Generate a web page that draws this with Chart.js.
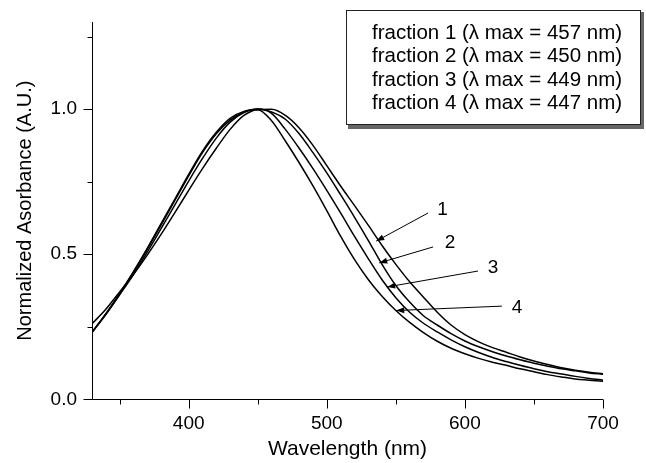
<!DOCTYPE html>
<html>
<head>
<meta charset="utf-8">
<script src="https://cdn.jsdelivr.net/npm/chart.js@4.4.0/dist/chart.umd.min.js"></script>
<style>
    html, body { margin: 0; padding: 0; background: #fff; }
</style>
</head>
<body>
<canvas id="myChart" width="646" height="463"></canvas>
<script>
// wavelength (nm)
const wavelength = [330, 340, 350, 360, 370, 380, 390, 400, 410, 420, 430, 440, 450, 460, 470, 480, 490, 500, 510,
    520, 530, 540, 550, 560, 570, 580, 590, 600, 610, 620, 630, 640, 650, 660, 670, 680, 690, 700];

// normalized absorbance for each fraction
const fraction1 = [0.23, 0.295, 0.365, 0.44, 0.52, 0.605, 0.69, 0.775, 0.855, 0.92, 0.968, 0.992, 0.998, 0.999, 0.978,
    0.935, 0.875, 0.805, 0.735, 0.668, 0.60, 0.53, 0.465, 0.405, 0.352, 0.30, 0.256, 0.223, 0.198, 0.178, 0.162, 0.146,
    0.132, 0.12, 0.109, 0.10, 0.093, 0.088];
const fraction2 = [0.23, 0.292, 0.362, 0.437, 0.517, 0.60, 0.685, 0.77, 0.85, 0.915, 0.962, 0.99, 1.0, 0.99, 0.965,
    0.915, 0.85, 0.78, 0.705, 0.628, 0.548, 0.465, 0.392, 0.335, 0.288, 0.256, 0.226, 0.201, 0.181, 0.164, 0.149, 0.136,
    0.124, 0.114, 0.105, 0.098, 0.091, 0.086];
const fraction3 = [0.232, 0.293, 0.36, 0.43, 0.507, 0.588, 0.67, 0.752, 0.83, 0.90, 0.955, 0.988, 1.0, 0.985, 0.93,
    0.865, 0.795, 0.72, 0.642, 0.562, 0.485, 0.412, 0.35, 0.30, 0.262, 0.232, 0.205, 0.181, 0.161, 0.144, 0.13, 0.117,
    0.105, 0.095, 0.087, 0.079, 0.072, 0.066];
const fraction4 = [0.26, 0.31, 0.37, 0.43, 0.497, 0.568, 0.643, 0.72, 0.795, 0.865, 0.93, 0.978, 0.998, 0.96, 0.89,
    0.815, 0.735, 0.65, 0.562, 0.482, 0.413, 0.355, 0.306, 0.265, 0.23, 0.20, 0.176, 0.157, 0.141, 0.128, 0.117, 0.105,
    0.095, 0.085, 0.077, 0.07, 0.066, 0.062];

const legendLabels = [
    'fraction 1 (\u03bb max = 457 nm)',
    'fraction 2 (\u03bb max = 450 nm)',
    'fraction 3 (\u03bb max = 449 nm)',
    'fraction 4 (\u03bb max = 447 nm)'
];

// ticks
const xMajorTicks = [400, 500, 600, 700];
const xMinorTicks = [350, 450, 550, 650];
const yMajorTicks = [0, 0.5, 1.0];
const yMinorTicks = [0.25, 0.75, 1.25];

// arrows pointing at each curve (data units)
const arrowLabels = ['1', '2', '3', '4'];
const arrowTipX = [535.8, 538, 543.7, 550.3];
const arrowTipY = [0.545, 0.470, 0.387, 0.306];
const arrowTailX = [573.4, 577, 609.5, 626.8];
const arrowTailY = [0.642, 0.525, 0.442, 0.321];
const arrowTextX = [583.9, 589.3, 620.3, 637.7];
const arrowTextY = [0.652, 0.539, 0.452, 0.315];

const fam = "'Liberation Sans', Arial, Helvetica, sans-serif";

function serie(values){
    return values.map((v, i) => ({ x: wavelength[i], y: v }));
}

// eixos com ticks maiores e menores
const axesPlugin = {
    id: 'axesPlugin',
    afterDraw(chart){
        const c = chart.ctx;
        const xs = chart.scales.x;
        const ys = chart.scales.y;
        const left = Math.round(chart.chartArea.left) + 0.5;
        const bottom = Math.round(chart.chartArea.bottom) + 0.5;
        c.save();
        c.strokeStyle = '#000';
        c.lineWidth = 1;
        c.beginPath();
        c.moveTo(left, Math.round(chart.chartArea.top));
        c.lineTo(left, bottom);
        c.lineTo(Math.round(chart.chartArea.right), bottom);
        yMajorTicks.forEach(v => {
            const y = Math.round(ys.getPixelForValue(v)) + 0.5;
            c.moveTo(left - 9, y); c.lineTo(left, y);
        });
        yMinorTicks.forEach(v => {
            const y = Math.round(ys.getPixelForValue(v)) + 0.5;
            c.moveTo(left - 5, y); c.lineTo(left, y);
        });
        xMajorTicks.forEach(v => {
            const x = Math.round(xs.getPixelForValue(v)) + 0.5;
            c.moveTo(x, bottom); c.lineTo(x, bottom + 9);
        });
        xMinorTicks.forEach(v => {
            const x = Math.round(xs.getPixelForValue(v)) + 0.5;
            c.moveTo(x, bottom); c.lineTo(x, bottom + 5);
        });
        c.stroke();
        c.restore();
    }
};

// setas com numeros
const arrowPlugin = {
    id: 'arrowPlugin',
    afterDatasetsDraw(chart){
        const c = chart.ctx;
        const xs = chart.scales.x;
        const ys = chart.scales.y;
        c.save();
        c.strokeStyle = '#000';
        c.fillStyle = '#000';
        c.lineWidth = 1;
        arrowLabels.forEach((lab, i) => {
            const x1 = xs.getPixelForValue(arrowTailX[i]);
            const y1 = ys.getPixelForValue(arrowTailY[i]);
            const x2 = xs.getPixelForValue(arrowTipX[i]);
            const y2 = ys.getPixelForValue(arrowTipY[i]);
            const ang = Math.atan2(y2 - y1, x2 - x1);
            c.beginPath();
            c.moveTo(x1, y1);
            c.lineTo(x2, y2);
            c.stroke();
            c.beginPath();
            c.moveTo(x2, y2);
            c.lineTo(x2 - 8 * Math.cos(ang) + 3 * Math.sin(ang), y2 - 8 * Math.sin(ang) - 3 * Math.cos(ang));
            c.lineTo(x2 - 8 * Math.cos(ang) - 3 * Math.sin(ang), y2 - 8 * Math.sin(ang) + 3 * Math.cos(ang));
            c.closePath();
            c.fill();
            c.font = '19px ' + fam;
            c.textAlign = 'center';
            c.textBaseline = 'middle';
            c.fillText(lab, xs.getPixelForValue(arrowTextX[i]), ys.getPixelForValue(arrowTextY[i]));
        });
        c.restore();
    }
};

// caixa da legenda
const legendPlugin = {
    id: 'legendPlugin',
    afterDraw(chart){
        const c = chart.ctx;
        c.save();
        c.fillStyle = '#666';
        c.fillRect(348, 12, 296, 117);
        c.fillStyle = '#fff';
        c.fillRect(346, 10, 295, 115);
        c.strokeStyle = '#222';
        c.lineWidth = 1;
        c.strokeRect(346.5, 10.5, 294, 114);
        c.fillStyle = '#000';
        c.font = '20.5px ' + fam;
        c.textAlign = 'left';
        c.textBaseline = 'middle';
        legendLabels.forEach((t, i) => {
            c.fillText(t, 372, 33 + i * 23.5);
        });
        c.restore();
    }
};

const ctx = document.getElementById('myChart').getContext('2d');
const grafico = new Chart(ctx, {
    type: 'line',
    data: {
        datasets: [fraction1, fraction2, fraction3, fraction4].map((d, i) => ({
            label: legendLabels[i],
            data: serie(d),
            borderColor: '#000',
            borderWidth: 1.5,
            pointRadius: 0,
            fill: false,
            cubicInterpolationMode: 'monotone'
        }))
    },
    options: {
        responsive: false,
        animation: false,
        layout: { padding: { top: 22, right: 43, left: 0, bottom: 0 } },
        plugins: {
            legend: { display: false },
            tooltip: { enabled: false }
        },
        scales: {
            x: {
                type: 'linear',
                min: 330,
                max: 700,
                border: { display: false },
                grid: { display: false, drawTicks: false },
                afterBuildTicks: s => { s.ticks = xMajorTicks.map(v => ({ value: v })); },
                afterFit: s => { s.height = 63.7; s.paddingLeft = 0; s.paddingRight = 0; },
                ticks: { color: '#000', font: { size: 19, family: fam }, padding: 13, maxRotation: 0, autoSkip: false },
                title: { display: true, text: 'Wavelength (nm)', color: '#000', font: { size: 21, family: fam }, padding: { top: 0, bottom: 1 } }
            },
            y: {
                min: 0,
                max: 1.3,
                border: { display: false },
                grid: { display: false, drawTicks: false },
                afterBuildTicks: s => { s.ticks = yMajorTicks.map(v => ({ value: v })); },
                afterFit: s => { s.width = 92; s.paddingTop = 0; s.paddingBottom = 0; },
                ticks: { color: '#000', font: { size: 19, family: fam }, padding: 15, callback: v => v.toFixed(1) },
                title: { display: true, text: 'Normalized Asorbance (A.U.)', color: '#000', font: { size: 20, family: fam }, padding: { top: 13, bottom: 0 } }
            }
        }
    },
    plugins: [axesPlugin, arrowPlugin, legendPlugin]
});
</script>
</body>
</html>
